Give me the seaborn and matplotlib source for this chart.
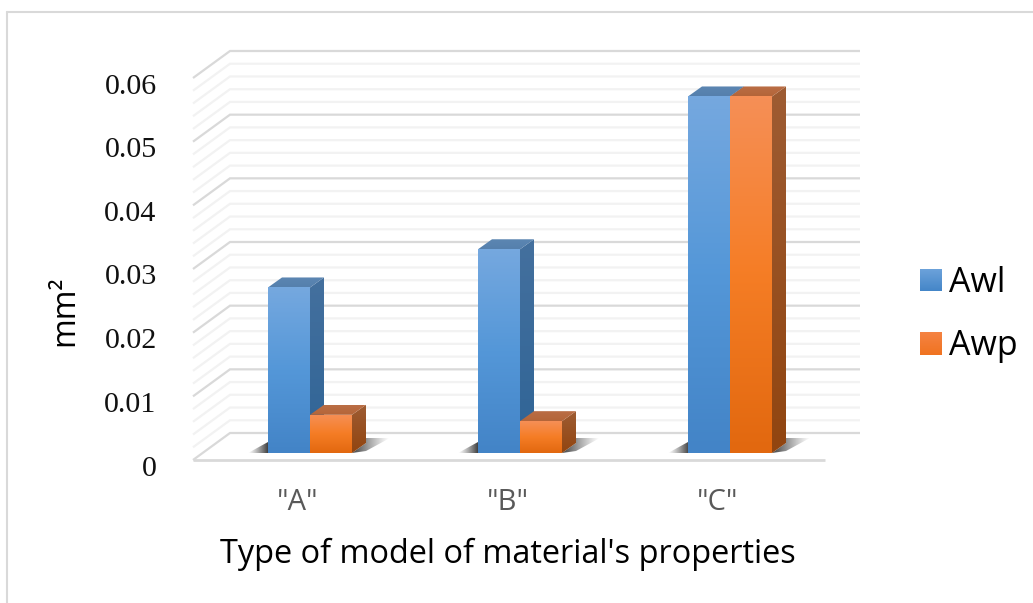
import numpy as np
import pandas as pd
import matplotlib
matplotlib.use("Agg")
import matplotlib.pyplot as plt
from matplotlib.colors import to_rgb
from matplotlib.lines import Line2D
from matplotlib.patches import Polygon
from matplotlib.transforms import Affine2D
import seaborn as sns

categories = ['"A"', '"B"', '"C"']
awl = [0.026, 0.032, 0.056]
awp = [0.006, 0.005, 0.056]
series_names = ["Awl", "Awp"]
y_ticks = [0, 0.01, 0.02, 0.03, 0.04, 0.05, 0.06]
y_tick_labels = ["0", "0.01", "0.02", "0.03", "0.04", "0.05", "0.06"]
x_title = "Type of model of material's properties"
y_title = "mm\u00b2"

W, H = 1033, 603
AX_L, AX_R, AX_T, AX_B = 205, 835, 71, 453   # front plane of the bars, pixels
SANS = "Open Sans"
SERIF = "Liberation Serif"

FRONT = {"Awl": ("#75A8DF", "#5497D8", "#4384C7"), "Awp": ("#F68F56", "#F57D25", "#E2680F")}
SIDE = {"Awl": ("#44709E", "#2F6496"), "Awp": ("#9E5C33", "#914510")}
TOP = {"Awl": ("#5C86B2", "#5580AD"), "Awp": ("#BA6E45", "#B46539")}
LEGEND_COL = {"Awl": ("#6EA3DB", "#4486C8"), "Awp": ("#F58343", "#F07320")}
GRID_MAJOR, GRID_MINOR = "#D9D9D9", "#F2F2F2"

sns.set_style("white")
plt.rcParams["font.family"] = [SANS, "DejaVu Sans"]

df = pd.DataFrame({"category": categories * 2,
                   "series": ["Awl"] * 3 + ["Awp"] * 3,
                   "value": awl + awp})

fig = plt.figure(figsize=(W / 100, H / 100), dpi=100)
ax = fig.add_axes([AX_L / W, 1 - AX_B / H, (AX_R - AX_L) / W, (AX_B - AX_T) / H])
sns.barplot(data=df, x="category", y="value", hue="series", hue_order=series_names,
            palette={k: v[-1] for k, v in LEGEND_COL.items()},
            width=0.4, gap=0, errorbar=None, ax=ax, legend=True, linewidth=0)
XLIM = (-0.5, 2.5)
YLIM = (0, 0.06)
ax.set_xlim(*XLIM)
ax.set_ylim(*YLIM)
ax.patch.set_alpha(0)
sns.despine(ax=ax, left=True, bottom=True)

PX = (XLIM[1] - XLIM[0]) / (AX_R - AX_L)
PY = (YLIM[1] - YLIM[0]) / (AX_B - AX_T)


def off(x, v, dx=0, dy=0):
    """data point moved by dx, dy pixels (dy positive = up)"""
    return (x + dx * PX, v + dy * PY)


def ramp(*colors):
    stops = np.array([to_rgb(c) for c in colors])
    pos = np.linspace(0, 1, len(colors))
    t = np.linspace(0, 1, 64)
    arr = np.stack([np.interp(t, pos, stops[:, i]) for i in range(3)], axis=1)
    return arr[:, None, :]


def grad_poly(pts, colors, z):
    pts = np.array(pts)
    im = ax.imshow(ramp(*colors), extent=(pts[:, 0].min(), pts[:, 0].max(),
                                          pts[:, 1].min(), pts[:, 1].max()),
                   aspect="auto", origin="upper", zorder=z, interpolation="bilinear")
    poly = Polygon(pts, closed=True, transform=ax.transData, fc="none", ec="none")
    ax.add_patch(poly)
    im.set_clip_path(poly)
    return im


def shadow(pts, dark_left, z):
    pts = np.array(pts)
    a = np.linspace(0.9, 0.0, 64) ** 1.2
    if not dark_left:
        a = a[::-1]
    arr = np.zeros((1, 64, 4))
    arr[..., :3] = 0.15
    arr[..., 3] = a
    im = ax.imshow(arr, extent=(pts[:, 0].min(), pts[:, 0].max(),
                                pts[:, 1].min(), pts[:, 1].max()),
                   aspect="auto", zorder=z, interpolation="bilinear")
    poly = Polygon(pts, closed=True, transform=ax.transData, fc="none", ec="none")
    ax.add_patch(poly)
    im.set_clip_path(poly)


# walls and floor, drawn in the data space of the front plane
BACK = (25, 20)     # back wall offset, pixels
FRONT_EDGE = (-12, -7)
BACK_RIGHT = XLIM[1] + 25 * PX
FRONT_RIGHT = XLIM[1] - 10 * PX
for v in np.arange(0, 61)[::2] / 1000:
    major = int(round(v * 1000)) % 10 == 0
    col = GRID_MAJOR if major else GRID_MINOR
    x0, y0 = off(XLIM[0], v, *FRONT_EDGE)
    x1, y1 = off(XLIM[0], v, *BACK)
    ax.plot([x0, x1, BACK_RIGHT], [y0, y1, y1], color=col, lw=1.6, clip_on=False,
            zorder=0.6 if major else 0.5, solid_joinstyle="miter", solid_capstyle="butt")
x0, y0 = off(XLIM[0], 0, *FRONT_EDGE)
ax.plot([x0, FRONT_RIGHT], [y0, y0], color=GRID_MAJOR, lw=2.0, clip_on=False, zorder=0.6,
        solid_capstyle="butt")

# bars: seaborn's rectangles are covered with gradient faces and given depth
DX, DY = 14, 10
for name, cont in zip(series_names, ax.containers):
    z = 3 if name == "Awl" else 6
    for bar in cont:
        x, w, v = bar.get_x(), bar.get_width(), bar.get_height()
        r = x + w
        grad_poly([(x, 0), (r, 0), (r, v), (x, v)], FRONT[name], z + 2)
        grad_poly([(r, 0), off(r, 0, DX, DY), off(r, v, DX, DY), (r, v)], SIDE[name], z)
        grad_poly([(x, v), (r, v), off(r, v, DX, DY), off(x, v, DX, DY)], TOP[name], z + 1)
        bar.set_zorder(1)
        if name == "Awl":
            shadow([off(x, 0, -20, 0), (x, 0), off(x, 0, 0, 11)], False, 2)
        else:
            shadow([(r, 0), off(r, 0, DX, DY), off(r, 0, DX, DY + 5),
                    off(r, 0, 38, DY + 5), off(r, 0, 14, 2)], True, 2)
ax.set_xlim(*XLIM)
ax.set_ylim(*YLIM)

# ticks and axis titles
ax.set_yticks(y_ticks)
ax.set_yticklabels(y_tick_labels, fontfamily=SERIF, fontsize=21.6, color="#111111")
ax.tick_params(axis="y", length=0, pad=34.8)
ax.tick_params(axis="x", length=0, pad=25, labelsize=21, labelcolor="#595959")
for lab in ax.get_yticklabels():
    lab.set_transform(lab.get_transform() + Affine2D().translate(0, -12.5))
for lab in ax.get_xticklabels():
    lab.set_transform(lab.get_transform() + Affine2D().translate(-12, 0))

ax.set_xlabel(x_title, fontsize=23.4, color="black", va="center")
ax.xaxis.set_label_coords((508 - AX_L) / (AX_R - AX_L), -(554 - AX_B) / (AX_B - AX_T))
ax.set_ylabel(y_title, fontsize=23, color="black", va="center")
ax.yaxis.set_label_coords((65 - AX_L) / (AX_R - AX_L), (AX_B - 311) / (AX_B - AX_T))

# legend
leg = ax.legend(title=None, frameon=False, loc="upper left",
                bbox_to_anchor=(920 / W, 1 - 266 / H), bbox_transform=fig.transFigure,
                borderpad=0, borderaxespad=0, handlelength=0.64, handleheight=0.64,
                handletextpad=0.2, labelspacing=0.86, prop={"family": SANS, "size": 24.5})
for t in leg.get_texts():
    t.set_color("black")
fig.canvas.draw()
for name, h in zip(series_names, leg.legend_handles):
    bb = h.get_window_extent()
    hax = fig.add_axes([bb.x0 / W, bb.y0 / H, bb.width / W, bb.height / H])
    hax.imshow(ramp(*LEGEND_COL[name]), aspect="auto", interpolation="bilinear")
    hax.axis("off")

# outer chart frame: only top and left edges fall inside the crop
for xs, ys in (([7, W], [12, 12]), ([7, 7], [12, H])):
    fig.add_artist(Line2D(np.array(xs) / W, 1 - np.array(ys) / H, color="#D9D9D9", lw=1.5,
                          transform=fig.transFigure))

fig.savefig("out.png", dpi=100)
